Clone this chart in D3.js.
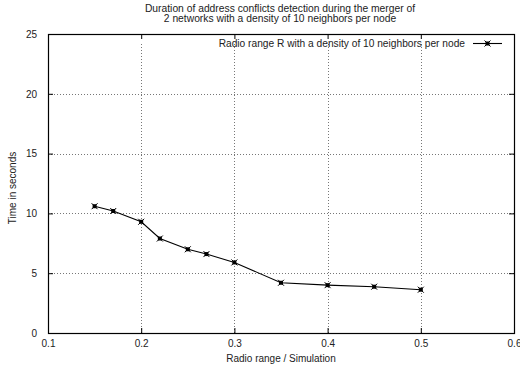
<!DOCTYPE html>
<html>
<head>
<meta charset="utf-8">
<script src="https://cdn.jsdelivr.net/npm/d3@7"></script>
<style>
  html, body { margin: 0; padding: 0; background: #fff; }
  svg { display: block; font-family: "Liberation Sans", Arial, Helvetica, sans-serif; }
</style>
</head>
<body>
<svg id="chart" width="520" height="369"></svg>
<script>
// Radio range per simulation and the measured detection time (seconds)
const radioRange = [0.15, 0.17, 0.20, 0.22, 0.25, 0.27, 0.30, 0.35, 0.40, 0.45, 0.50];
const detectionTime = [10.6, 10.2, 9.3, 7.9, 7.0, 6.6, 5.9, 4.2, 4.0, 3.87, 3.62];
const xTicks = [0.1, 0.2, 0.3, 0.4, 0.5, 0.6];
const yTicks = [0, 5, 10, 15, 20, 25];
const titleLines = [
  "Duration of address conflicts detection during the merger of",
  "2 networks with a density of 10 neighbors per node"
];
const seriesName = "Radio range R with a density of 10 neighbors per node";
const xLabel = "Radio range / Simulation";
const yLabel = "Time in seconds";

const svg = d3.select("#chart");
const plot = { left: 48, right: 514, top: 34, bottom: 333 };

const x = d3.scaleLinear().domain([0.1, 0.6]).range([plot.left, plot.right]);
const y = d3.scaleLinear().domain([0, 25]).range([plot.bottom, plot.top]);

// Grid (dotted, grey)
const grid = svg.append("g").attr("stroke", "#777").attr("stroke-width", 1)
  .attr("stroke-dasharray", "1,2").attr("shape-rendering", "crispEdges");
grid.selectAll("line.gx").data(xTicks.slice(1, -1)).join("line")
  .attr("x1", d => Math.round(x(d)) + 0.5).attr("x2", d => Math.round(x(d)) + 0.5)
  .attr("y1", plot.bottom).attr("y2", plot.top + 10);
grid.selectAll("line.gy").data(yTicks.slice(1, -1)).join("line")
  .attr("y1", d => Math.round(y(d)) + 0.5).attr("y2", d => Math.round(y(d)) + 0.5)
  .attr("x1", plot.left).attr("x2", plot.right);

// Axes with inward ticks on all four sides
const axisStyle = g => {
  g.select(".domain").remove();
  g.selectAll(".tick line").attr("stroke", "#000");
  g.selectAll(".tick text").attr("fill", "#222").attr("font-size", 10);
};
svg.append("g").attr("transform", `translate(0,${plot.bottom})`)
  .call(d3.axisBottom(x).tickValues(xTicks).tickFormat(d3.format(".1f")).tickSizeInner(-5).tickSizeOuter(0).tickPadding(7))
  .call(axisStyle);
svg.append("g").attr("transform", `translate(0,${plot.top})`)
  .call(d3.axisTop(x).tickValues(xTicks).tickFormat("").tickSizeInner(-5).tickSizeOuter(0))
  .call(axisStyle);
svg.append("g").attr("transform", `translate(${plot.left},0)`)
  .call(d3.axisLeft(y).tickValues(yTicks).tickFormat(d3.format("d")).tickSizeInner(-5).tickSizeOuter(0).tickPadding(11))
  .call(axisStyle);
svg.append("g").attr("transform", `translate(${plot.right},0)`)
  .call(d3.axisRight(y).tickValues(yTicks).tickFormat("").tickSizeInner(-5).tickSizeOuter(0))
  .call(axisStyle);

// Plot border
svg.append("rect")
  .attr("x", plot.left + 0.5).attr("y", plot.top + 0.5)
  .attr("width", plot.right - plot.left).attr("height", plot.bottom - plot.top)
  .attr("fill", "none").attr("stroke", "#000").attr("stroke-width", 1.2);

// Series line and markers
const pts = radioRange.map((r, i) => [x(r), y(detectionTime[i])]);
svg.append("path").datum(pts)
  .attr("d", d3.line())
  .attr("fill", "none").attr("stroke", "#000").attr("stroke-width", 1.1);

function marker(g, cx, cy) {
  g.append("rect").attr("x", cx - 2).attr("y", cy - 2).attr("width", 4).attr("height", 4).attr("fill", "#000");
  g.append("path").attr("d", `M${cx-3},${cy-3}L${cx+3},${cy+3}M${cx-3},${cy+3}L${cx+3},${cy-3}`)
    .attr("stroke", "#000").attr("stroke-width", 1);
}
const mg = svg.append("g");
pts.forEach(p => marker(mg, p[0], p[1]));

// Legend
svg.append("text").attr("x", 465).attr("y", 47).attr("text-anchor", "end")
  .attr("font-size", 10.2).attr("fill", "#222").text(seriesName);
svg.append("line").attr("x1", 473).attr("x2", 502).attr("y1", 43.5).attr("y2", 43.5)
  .attr("stroke", "#000").attr("stroke-width", 1.1);
marker(svg.append("g"), 487.5, 43.5);

// Title
svg.append("g").selectAll("text").data(titleLines).join("text")
  .attr("x", 280).attr("y", (d, i) => 11.5 + i * 10)
  .attr("text-anchor", "middle").attr("font-size", 10.3).attr("fill", "#222")
  .text(d => d);

// Axis titles
svg.append("text").attr("x", 281).attr("y", 362).attr("text-anchor", "middle")
  .attr("font-size", 10).attr("fill", "#222").text(xLabel);
svg.append("text").attr("transform", "translate(16,188) rotate(-90)")
  .attr("text-anchor", "middle").attr("font-size", 10).attr("fill", "#222").text(yLabel);
</script>
</body>
</html>
